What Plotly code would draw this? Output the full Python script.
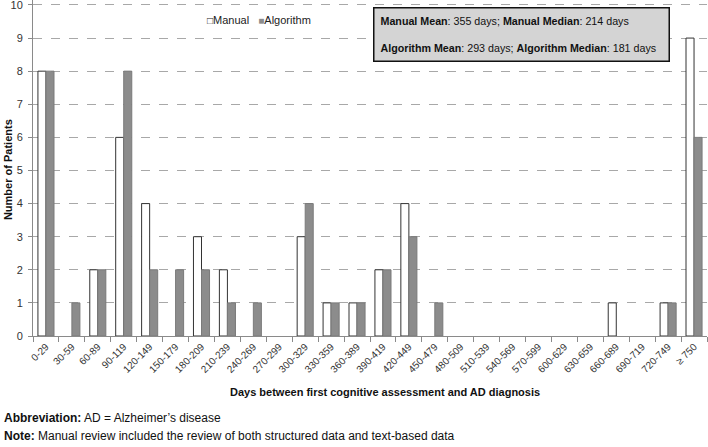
import plotly.graph_objects as go

# Day ranges (30-day bins) plus the open last bin
day_bins = ['0-29', '30-59', '60-89', '90-119', '120-149', '150-179', '180-209',
            '210-239', '240-269', '270-299', '300-329', '330-359', '360-389',
            '390-419', '420-449', '450-479', '480-509', '510-539', '540-569',
            '570-599', '600-629', '630-659', '660-689', '690-719', '720-749',
            '\u2265 750']
manual = [8, 0, 2, 6, 4, 0, 3, 2, 0, 0, 3, 1, 1, 2, 4, 0,
          0, 0, 0, 0, 0, 0, 1, 0, 1, 9]
algorithm = [8, 1, 2, 8, 2, 2, 2, 1, 1, 0, 4, 1, 1, 2, 3, 1,
             0, 0, 0, 0, 0, 0, 0, 0, 1, 6]
y_ticks = list(range(0, 11))

font_name = 'Liberation Sans, Arial, sans-serif'
manual_fill = 'white'
algo_fill = '#8c8c8c'

# empty bins get no bar at all (avoids an outlined zero-height sliver)
manual_y = [v if v else None for v in manual]
algorithm_y = [v if v else None for v in algorithm]

fig = go.Figure()
fig.add_trace(go.Bar(x=day_bins, y=manual_y, name='Manual',
                     marker=dict(color=manual_fill, line=dict(color='#333333', width=1))))
fig.add_trace(go.Bar(x=day_bins, y=algorithm_y, name='Algorithm',
                     marker=dict(color=algo_fill, line=dict(color='#7a7a7a', width=1))))

fig.update_layout(
    width=708, height=447,
    margin=dict(l=33, r=1, t=0, b=111),
    paper_bgcolor='white', plot_bgcolor='white',
    font=dict(family=font_name, size=11, color='#333333'),
    barmode='group', bargap=0.38, bargroupgap=0,
    showlegend=False,
)

fig.update_xaxes(
    type='category', tickangle=-45, tickfont=dict(size=10, color='#333333'),
    showline=True, linecolor='#8a8a8a', linewidth=1,
    ticks='outside', tickson='boundaries', ticklen=5, tickcolor='#8a8a8a',
    showgrid=False,
)
fig.update_yaxes(
    range=[0, 10.15], tickvals=y_ticks, tickfont=dict(size=11, color='#333333'),
    ticklabeloverflow='allow', ticklabelstandoff=3,
    showline=True, linecolor='#8a8a8a', linewidth=1,
    ticks='outside', ticklen=4, tickcolor='#8a8a8a',
    showgrid=True, gridcolor='#a8a8a8', griddash='dash', gridwidth=1,
    zeroline=False,
)

# small legend written as text with square glyphs
fig.add_annotation(
    xref='paper', yref='paper', x=0.255, y=0.94, xanchor='left', yanchor='middle',
    text=('<span style="font-size:10px;color:#222222">\u25a1</span>Manual\u00a0\u00a0\u00a0'
          '<span style="font-size:10px;color:#8c8c8c">\u25a0</span>Algorithm'),
    showarrow=False, font=dict(size=11, color='#222222'),
)

# summary box
fig.add_annotation(
    xref='paper', yref='paper', x=0.505, y=0.979, xanchor='left', yanchor='top',
    text=('<b>Manual Mean</b>: 355 days; <b>Manual Median</b>: 214 days<br><br>'
          '<b>Algorithm Mean</b>: 293 days; <b>Algorithm Median</b>: 181 days\u00a0\u00a0'),
    align='left', showarrow=False,
    font=dict(size=10.7, color='#111111'),
    bgcolor='#d4d4d4', bordercolor='#111111', borderwidth=1.5, borderpad=6,
)

# axis titles
fig.add_annotation(
    xref='paper', yref='paper', x=-0.037, y=0.494, xanchor='center', yanchor='middle',
    textangle=-90, text='<b>Number of Patients</b>', showarrow=False,
    font=dict(size=11, color='#111111'),
)
fig.add_annotation(
    xref='paper', yref='paper', x=0.522, y=-0.167, xanchor='center', yanchor='middle',
    text='<b>Days between first cognitive assessment and AD diagnosis</b>',
    showarrow=False, font=dict(size=11, color='#111111'),
)

# notes under the chart
fig.add_annotation(
    xref='paper', yref='paper', x=-0.046, y=-0.244, xanchor='left', yanchor='middle',
    text='<b>Abbreviation:</b> AD = Alzheimer\u2019s disease',
    showarrow=False, font=dict(size=12, color='#111111'),
)
fig.add_annotation(
    xref='paper', yref='paper', x=-0.046, y=-0.298, xanchor='left', yanchor='middle',
    text='<b>Note:</b> Manual review included the review of both structured data and text-based data',
    showarrow=False, font=dict(size=12, color='#111111'),
)

fig.write_html("out.html", config={'displayModeBar': False},
               post_script="document.body.style.margin='0';")
